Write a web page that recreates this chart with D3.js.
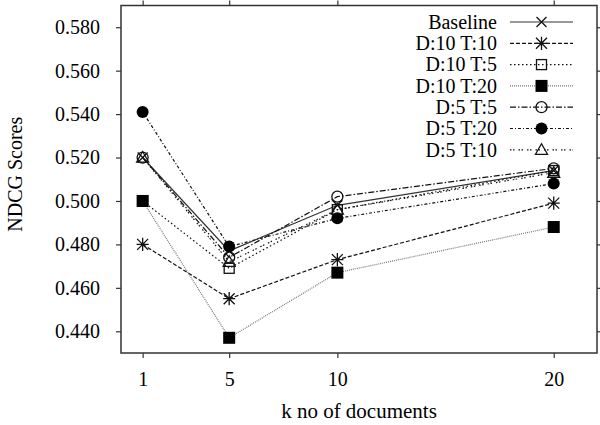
<!DOCTYPE html>
<html><head><meta charset="utf-8">
<script src="https://cdn.jsdelivr.net/npm/d3@7"></script>
<style>
body{margin:0;background:#fff}
svg text{font-family:"Liberation Serif","Times New Roman",serif;fill:#000}
</style>
</head><body><svg id="c" width="600" height="425"></svg>
<script>
// ---- data ----
const kValues = [1, 5, 10, 20];
const seriesNames = ["Baseline", "D:10 T:10", "D:10 T:5", "D:10 T:20", "D:5 T:5", "D:5 T:20", "D:5 T:10"];
const baseline = [0.520, 0.477, 0.498, 0.514];
const d10t10  = [0.480, 0.455, 0.473, 0.499];
const d10t5   = [0.500, 0.469, 0.496, 0.514];
const d10t20  = [0.500, 0.437, 0.467, 0.488];
const d5t5    = [0.520, 0.474, 0.502, 0.515];
const d5t20   = [0.541, 0.479, 0.492, 0.508];
const d5t10   = [0.520, 0.472, 0.496, 0.513];
const yTicks = [0.44, 0.46, 0.48, 0.50, 0.52, 0.54, 0.56, 0.58];
const xTicks = kValues;
const xLabel = "k no of documents";
const yLabel = "NDCG Scores";

// ---- styles ----
const seriesData = [baseline, d10t10, d10t5, d10t20, d5t5, d5t20, d5t10];
const styles = [
  {dash: null,            color: "#333", marker: "times"},
  {dash: "4,2",           color: "#111", marker: "star"},
  {dash: "1.5,2.5",       color: "#111", marker: "square"},
  {dash: "1,1",           color: "#777", marker: "squareFilled"},
  {dash: "6,2,1.5,2",     color: "#111", marker: "circle"},
  {dash: "3,2,1,2",       color: "#111", marker: "circleFilled"},
  {dash: "1.5,1.5,1.5,4", color: "#111", marker: "triangle"}
];

const svg = d3.select("#c");
const L = 121, R = 597, T = 5.5, B = 353;
const x = d3.scaleLinear().domain([0, 22]).range([L, R]);
const y = d3.scaleLinear().domain([0.43, 0.59]).range([B, T]);

// frame
svg.append("rect").attr("x", L).attr("y", T).attr("width", R - L).attr("height", B - T)
  .attr("fill", "none").attr("stroke", "#333").attr("stroke-width", 1.5);

const fmt = d3.format(".3f");
function styleAxis(g) {
  g.select(".domain").remove();
  g.selectAll(".tick line").attr("stroke", "#333").attr("stroke-width", 1.2);
  g.selectAll(".tick text").style("font-size", "20px").style("font-family", "'Liberation Serif', serif").attr("fill", "#000");
}
svg.append("g").attr("transform", `translate(${L},0)`)
  .call(d3.axisLeft(y).tickValues(yTicks).tickFormat(fmt).tickSize(5).tickPadding(16))
  .call(styleAxis);
svg.append("g").attr("transform", `translate(${R},0)`)
  .call(d3.axisRight(y).tickValues(yTicks).tickFormat("").tickSize(4))
  .call(styleAxis);
svg.append("g").attr("transform", `translate(0,${B})`)
  .call(d3.axisBottom(x).tickValues(xTicks).tickFormat(d3.format("d")).tickSize(5).tickPadding(14))
  .call(styleAxis);
svg.append("g").attr("transform", `translate(0,${T})`)
  .call(d3.axisTop(x).tickValues(xTicks).tickFormat("").tickSize(5))
  .call(styleAxis);

// axis titles
svg.append("text").attr("x", (L + R) / 2).attr("y", 418).attr("text-anchor", "middle")
  .style("font-size", "21px").text(xLabel);
svg.append("text").attr("transform", `translate(22,${(T + B) / 2 - 5}) rotate(-90)`)
  .attr("text-anchor", "middle").style("font-size", "20px").text(yLabel);

// marker drawing
function drawMarker(g, type, cx, cy, color) {
  const sw = 1.3;
  if (type === "times") {
    const s = 5;
    g.append("path").attr("d", `M${cx-s},${cy-s}L${cx+s},${cy+s}M${cx-s},${cy+s}L${cx+s},${cy-s}`)
      .attr("stroke", "#111").attr("stroke-width", sw).attr("fill", "none");
  } else if (type === "star") {
    const s = 5.5;
    g.append("path").attr("d", `M${cx-s},${cy-s}L${cx+s},${cy+s}M${cx-s},${cy+s}L${cx+s},${cy-s}M${cx},${cy-s*1.2}L${cx},${cy+s*1.2}M${cx-s*1.1},${cy}L${cx+s*1.1},${cy}`)
      .attr("stroke", "#111").attr("stroke-width", sw).attr("fill", "none");
  } else if (type === "square") {
    const s = 5;
    g.append("rect").attr("x", cx - s).attr("y", cy - s).attr("width", 2*s).attr("height", 2*s)
      .attr("fill", "#fff").attr("fill-opacity", 0).attr("stroke", "#111").attr("stroke-width", sw);
  } else if (type === "squareFilled") {
    const s = 6;
    g.append("rect").attr("x", cx - s).attr("y", cy - s).attr("width", 2*s).attr("height", 2*s)
      .attr("fill", "#000");
  } else if (type === "circle") {
    g.append("circle").attr("cx", cx).attr("cy", cy).attr("r", 5.5)
      .attr("fill", "none").attr("stroke", "#111").attr("stroke-width", sw);
  } else if (type === "circleFilled") {
    g.append("circle").attr("cx", cx).attr("cy", cy).attr("r", 6).attr("fill", "#000");
  } else if (type === "triangle") {
    const s = 6;
    g.append("path").attr("d", `M${cx},${cy-s}L${cx+s},${cy+s*0.75}L${cx-s},${cy+s*0.75}Z`)
      .attr("fill", "none").attr("stroke", "#111").attr("stroke-width", sw);
  }
}

const line = d3.line().x((d, i) => x(kValues[i])).y(d => y(d));
const plot = svg.append("g");
seriesData.forEach((vals, si) => {
  const st = styles[si];
  plot.append("path").datum(vals).attr("d", line)
    .attr("fill", "none").attr("stroke", st.color).attr("stroke-width", 1.2)
    .attr("stroke-dasharray", st.dash);
  vals.forEach((v, i) => drawMarker(plot, st.marker, x(kValues[i]), y(v), st.color));
});

// legend
const leg = svg.append("g");
seriesNames.forEach((name, i) => {
  const cy = 22 + i * 21.3;
  leg.append("text").attr("x", 497).attr("y", cy).attr("dy", "0.34em")
    .attr("text-anchor", "end").style("font-size", "20px").text(name);
  leg.append("line").attr("x1", 510).attr("x2", 573).attr("y1", cy).attr("y2", cy)
    .attr("stroke", styles[i].color).attr("stroke-width", 1.2)
    .attr("stroke-dasharray", styles[i].dash);
  drawMarker(leg, styles[i].marker, 541.5, cy, styles[i].color);
});
</script>
</body></html>
